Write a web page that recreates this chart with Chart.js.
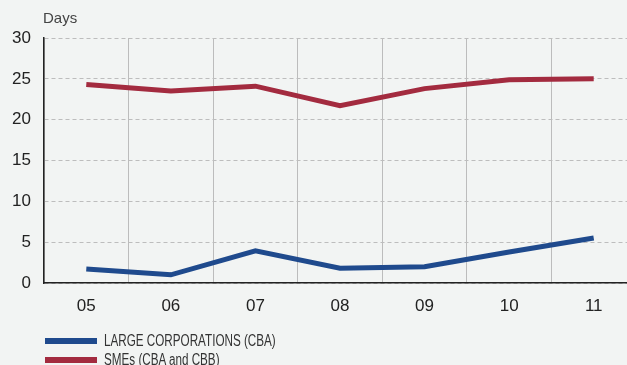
<!DOCTYPE html>
<html>
<head>
<meta charset="utf-8">
<script src="https://cdn.jsdelivr.net/npm/chart.js@4/dist/chart.umd.min.js"></script>
<style>
  html, body { margin: 0; padding: 0; background: #f2f4f3; overflow: hidden; }
  #wrap { position: relative; width: 636px; height: 365px; }
  #legend { position: absolute; left: 45px; top: 331px; font-family: "Liberation Sans", Arial, sans-serif; font-size: 16px; color: #333; }
  .item { display: flex; align-items: center; height: 19px; white-space: nowrap; }
  .swatch { width: 52px; height: 6px; margin-right: 7px; flex: none; }
  .text { display: inline-block; transform: scaleX(0.73); transform-origin: left center; }
</style>
</head>
<body>
<div id="wrap">
  <canvas id="myChart" width="636" height="365"></canvas>
  <div id="legend"></div>
</div>
<script>
// Years on the x axis
const years = ['05', '06', '07', '08', '09', '10', '11'];

// Days, per borrower group
const largeCorporations = [1.7, 1.0, 3.95, 1.8, 2.0, 3.8, 5.5];
const smes = [24.3, 23.5, 24.1, 21.7, 23.8, 24.9, 25.0];

const seriesNames = ['LARGE CORPORATIONS (CBA)', 'SMEs (CBA and CBB)'];
const seriesColors = ['#1f4a8d', '#a32b3f'];

// Y axis ticks
const yTicks = [0, 5, 10, 15, 20, 25, 30];

const tickFont = { family: '"Liberation Sans", Arial, sans-serif', size: 17 };

// Small "Days" unit label above the y axis
const unitLabel = {
  id: 'unitLabel',
  afterDraw(chart) {
    const ctx = chart.ctx;
    ctx.save();
    ctx.font = '15px "Liberation Sans", Arial, sans-serif';
    ctx.fillStyle = '#444';
    ctx.textBaseline = 'middle';
    ctx.fillText('Days', 43, 19);
    ctx.restore();
  }
};

const chartConfig = {
  type: 'line',
  data: {
    labels: years,
    datasets: [
      { label: seriesNames[0], data: largeCorporations, borderColor: seriesColors[0] },
      { label: seriesNames[1], data: smes, borderColor: seriesColors[1] }
    ]
  },
  options: {
    responsive: false,
    animation: false,
    layout: { padding: { top: 38, left: 0, right: 0, bottom: 0 } },
    elements: {
      line: { borderWidth: 5, tension: 0, borderCapStyle: 'butt', borderJoinStyle: 'miter' },
      point: { radius: 0 }
    },
    plugins: { legend: { display: false }, tooltip: { enabled: false } },
    scales: {
      x: {
        offset: true,
        grid: { offset: true, color: '#bcbcbc', lineWidth: 1, drawTicks: false },
        border: { color: '#222', width: 1.5 },
        ticks: { font: tickFont, color: '#222', padding: 13 },
        afterFit(scale) { scale.height = 82; }
      },
      y: {
        min: 0,
        max: 30,
        afterBuildTicks(scale) { scale.ticks = yTicks.map(v => ({ value: v })); },
        grid: { color: '#bdbdbd', lineWidth: 1, drawTicks: false },
        border: { color: '#222', width: 1.5, dash: [4, 3] },
        ticks: { font: tickFont, color: '#222', padding: 13 },
        afterFit(scale) { scale.width = 44; }
      }
    }
  },
  plugins: [unitLabel]
};

const myChart = new Chart(document.getElementById('myChart'), chartConfig);

// Legend stacked under the plot
const legend = document.getElementById('legend');
myChart.data.datasets.forEach(ds => {
  const row = document.createElement('div');
  row.className = 'item';
  const sw = document.createElement('span');
  sw.className = 'swatch';
  sw.style.background = ds.borderColor;
  const txt = document.createElement('span');
  txt.className = 'text';
  txt.textContent = ds.label;
  row.appendChild(sw);
  row.appendChild(txt);
  legend.appendChild(row);
});
</script>
</body>
</html>
